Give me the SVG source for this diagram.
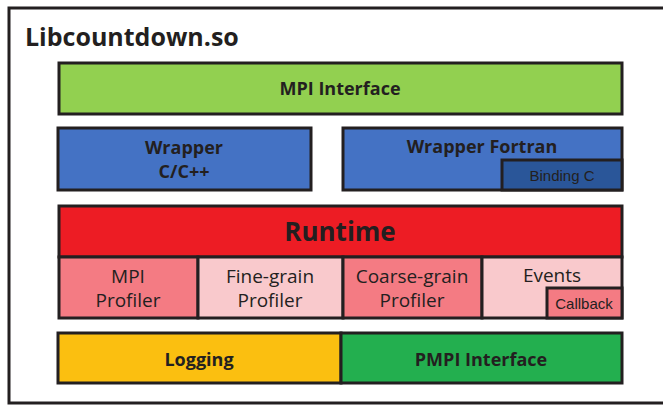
<svg xmlns="http://www.w3.org/2000/svg" width="663" height="406" viewBox="0 0 663 406">
<style>
.b{stroke:#231F20;stroke-width:3}
.t{font-family:"Open Sans","DejaVu Sans",sans-serif;fill:#231F20;text-anchor:middle}
.bd{font-weight:bold;font-size:18px}
.r{font-size:19px}
.a{font-family:"Liberation Sans",Arial,sans-serif;fill:#231F20;text-anchor:middle;font-size:15px}
</style>
<rect width="663" height="406" fill="#ffffff"/>
<rect x="9" y="8" width="670" height="395" fill="none" stroke="#231F20" stroke-width="3"/>
<text x="25" y="46" class="t" style="text-anchor:start;font-size:25px;font-weight:bold">Libcountdown.so</text>
<g id="mpi-interface">
<rect x="59" y="63" width="563" height="51" fill="#92D050" class="b"/>
<text x="340" y="95" class="t bd">MPI Interface</text>
</g>
<g id="wrapper-c">
<rect x="58" y="128" width="253" height="62" fill="#4472C4" class="b"/>
<text x="184" y="154" class="t bd">Wrapper</text>
<text x="184" y="178" class="t bd">C/C++</text>
</g>
<g id="wrapper-fortran">
<rect x="343" y="128" width="279" height="62" fill="#4472C4" class="b"/>
<text x="482" y="153" class="t bd">Wrapper Fortran</text>
</g>
<g id="binding-c">
<rect x="502" y="160" width="120" height="30" fill="#2A5699" class="b"/>
<text x="562" y="181" class="a">Binding C</text>
</g>
<g id="runtime">
<rect x="59" y="206" width="563" height="51" fill="#ED1C24" class="b"/>
<text x="340" y="241" class="t" style="font-size:26px;font-weight:bold">Runtime</text>
</g>
<g id="mpi-profiler">
<rect x="59" y="257" width="139" height="61" fill="#F47B83" class="b"/>
<text x="128" y="283" class="t r">MPI</text>
<text x="128" y="307" class="t r">Profiler</text>
</g>
<g id="fine-grain">
<rect x="198" y="257" width="145" height="61" fill="#F9C9CC" class="b"/>
<text x="270" y="283" class="t r">Fine-grain</text>
<text x="270" y="307" class="t r">Profiler</text>
</g>
<g id="coarse-grain">
<rect x="343" y="257" width="139" height="61" fill="#F47B83" class="b"/>
<text x="412" y="283" class="t r">Coarse-grain</text>
<text x="412" y="307" class="t r">Profiler</text>
</g>
<g id="events">
<rect x="482" y="257" width="140" height="61" fill="#F9C9CC" class="b"/>
<text x="552" y="282" class="t r">Events</text>
</g>
<g id="callback">
<rect x="547" y="288" width="75" height="30" fill="#F47B83" class="b"/>
<text x="584" y="309" class="a">Callback</text>
</g>
<g id="logging">
<rect x="58" y="333" width="283" height="50" fill="#FBBF10" class="b"/>
<text x="199" y="366" class="t bd">Logging</text>
</g>
<g id="pmpi-interface">
<rect x="341" y="333" width="281" height="50" fill="#23AF4F" class="b"/>
<text x="481" y="366" class="t bd">PMPI Interface</text>
</g>
<g id="connectors"/>
</svg>
